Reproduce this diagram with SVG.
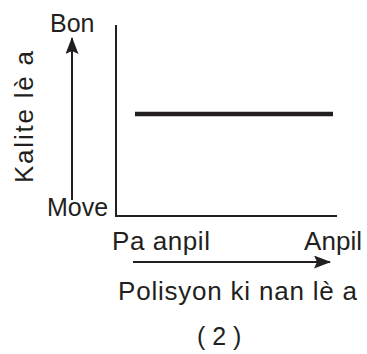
<svg xmlns="http://www.w3.org/2000/svg" width="367" height="354" viewBox="0 0 367 354">
<style>
text{font-family:"Liberation Sans",Arial,sans-serif;font-size:25px;fill:#231f20}
.big{font-size:26px}
.ax{stroke:#231f20;stroke-width:2;fill:none}
</style>
<defs>
<marker id="ah2" markerWidth="17" markerHeight="13" refX="16" refY="6.5" orient="auto" markerUnits="userSpaceOnUse" viewBox="0 0 17 13">
<path d="M0,0 L17,6.5 L0,13 L3,6.5 Z" fill="#231f20"/>
</marker>
</defs>
<rect width="367" height="354" fill="#fff"/>
<g id="axes">
<path class="ax" d="M116,25 V216 H337"/>
</g>
<g id="connectors">
<line class="ax" x1="72" y1="200" x2="72" y2="38" marker-end="url(#ah2)"/>
<line class="ax" x1="133" y1="262" x2="330" y2="262" marker-end="url(#ah2)"/>
</g>
<g id="series">
<line x1="135" y1="114" x2="333" y2="114" stroke="#231f20" stroke-width="4.5"/>
</g>
<g id="labels">
<text x="50" y="32">Bon</text>
<text x="47" y="216">Move</text>
<text class="big" transform="translate(33,183) rotate(-90)" textLength="132">Kalite lè a</text>
<text class="big" x="112" y="250" textLength="98">Pa anpil</text>
<text class="big" x="304" y="250" textLength="58">Anpil</text>
<text class="big" x="118" y="300" textLength="239">Polisyon ki nan lè a</text>
<text x="197" y="345">( 2 )</text>
</g>
</svg>
